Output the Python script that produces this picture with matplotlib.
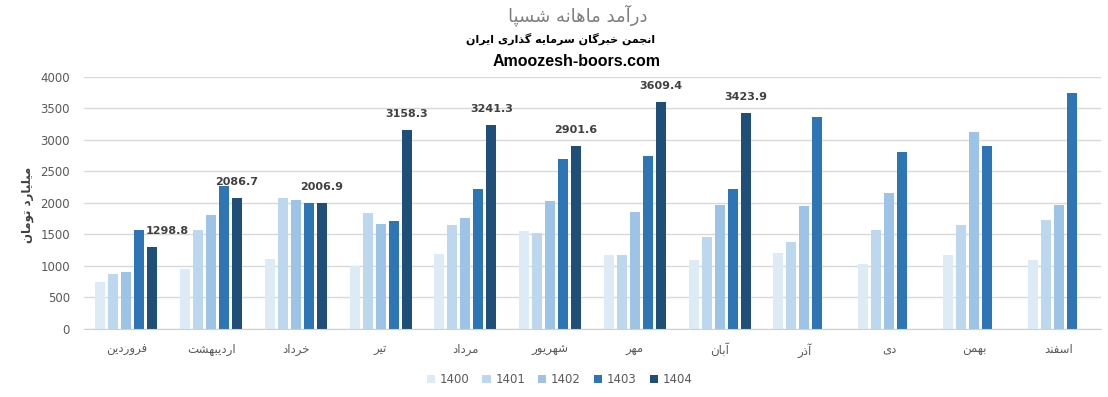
import numpy as np
import matplotlib
matplotlib.use('Agg')
import matplotlib.pyplot as plt

# Monthly revenue (billion toman) per Persian year
months = ['فروردین', 'اردیبهشت', 'خرداد', 'تیر', 'مرداد', 'شهریور',
          'مهر', 'آبان', 'آذر', 'دی', 'بهمن', 'اسفند']
years = ['1400', '1401', '1402', '1403', '1404']
v1400 = [741, 947, 1106, 1000, 1185, 1550, 1169, 1090, 1201, 1026, 1169, 1090]
v1401 = [868, 1566, 2072, 1847, 1645, 1529, 1169, 1455, 1376, 1566, 1645, 1725]
v1402 = [899, 1804, 2040, 1661, 1757, 2037, 1852, 1963, 1947, 2153, 3122, 1963]
v1403 = [1566, 2275, 2005, 1709, 2217, 2693, 2741, 2217, 3360, 2804, 2900, 3741]
v1404 = [1298.8, 2086.7, 2006.9, 3158.3, 3241.3, 2901.6, 3609.4, 3423.9]
colors = ['#DDEBF7', '#BDD7EE', '#9DC3E6', '#2E75B6', '#1F4E79']

title1 = 'درآمد ماهانه شسپا'
title2 = 'انجمن خبرگان سرمایه گذاری ایران'
title3 = 'Amoozesh-boors.com'
ylabel = 'میلیارد تومان'

# matplotlib has no Arabic shaping, so map letters to presentation forms
# (isolated, final, initial, medial); two-entry letters join only to the right
FORMS = {
    'ا': (0xFE8D, 0xFE8E), 'آ': (0xFE81, 0xFE82),
    'د': (0xFEA9, 0xFEAA), 'ذ': (0xFEAB, 0xFEAC),
    'ر': (0xFEAD, 0xFEAE), 'ز': (0xFEAF, 0xFEB0),
    'ژ': (0xFB8A, 0xFB8B), 'و': (0xFEED, 0xFEEE),
    'ب': (0xFE8F, 0xFE90, 0xFE91, 0xFE92), 'پ': (0xFB56, 0xFB57, 0xFB58, 0xFB59),
    'ت': (0xFE95, 0xFE96, 0xFE97, 0xFE98), 'ج': (0xFE9D, 0xFE9E, 0xFE9F, 0xFEA0),
    'خ': (0xFEA5, 0xFEA6, 0xFEA7, 0xFEA8), 'س': (0xFEB1, 0xFEB2, 0xFEB3, 0xFEB4),
    'ش': (0xFEB5, 0xFEB6, 0xFEB7, 0xFEB8), 'ف': (0xFED1, 0xFED2, 0xFED3, 0xFED4),
    'ک': (0xFB8E, 0xFB8F, 0xFB90, 0xFB91), 'گ': (0xFB92, 0xFB93, 0xFB94, 0xFB95),
    'ل': (0xFEDD, 0xFEDE, 0xFEDF, 0xFEE0), 'م': (0xFEE1, 0xFEE2, 0xFEE3, 0xFEE4),
    'ن': (0xFEE5, 0xFEE6, 0xFEE7, 0xFEE8), 'ه': (0xFEE9, 0xFEEA, 0xFEEB, 0xFEEC),
    'ی': (0xFBFC, 0xFBFD, 0xFBFE, 0xFBFF),
}


def shape(text):
    out = []
    for i, c in enumerate(text):
        if c not in FORMS:
            out.append(c)
            continue
        f = FORMS[c]
        prev = text[i - 1] if i > 0 else ''
        nxt = text[i + 1] if i + 1 < len(text) else ''
        join_prev = prev in FORMS and len(FORMS[prev]) == 4
        join_next = len(f) == 4 and nxt in FORMS
        if join_prev and join_next:
            out.append(chr(f[3]))
        elif join_prev:
            out.append(chr(f[1]))
        elif join_next:
            out.append(chr(f[2]))
        else:
            out.append(chr(f[0]))
    return ''.join(out)[::-1]


fa_font = ['DejaVu Sans']
gray = '#595959'

fig = plt.figure(figsize=(11.08, 3.97), dpi=100)
ax = fig.add_axes([0.0758, 0.1713, 0.9179, 0.6348])

x = np.arange(len(months))
step = 0.153
width = 0.118
series = [v1400, v1401, v1402, v1403, v1404]
for k, (vals, yr, col) in enumerate(zip(series, years, colors)):
    xs = x[:len(vals)] + (k - 2) * step
    ax.bar(xs, vals, width=width, color=col, label=yr, zorder=3)

# labels for the 1404 series
for i, v in enumerate(v1404):
    dx = 15 if i == 0 else 0
    ax.annotate(f'{v:.1f}', (x[i] + 2 * step, v), xytext=(dx, 16),
                textcoords='offset pixels', ha='center', va='center',
                fontsize=8, fontweight='bold', color='#404040')

ax.set_xlim(-0.5, 11.5)
ax.set_ylim(0, 4000)
ax.set_yticks(np.arange(0, 4001, 500))
ax.yaxis.grid(True, color='#d9d9d9', linewidth=1, zorder=0)
ax.tick_params(axis='both', length=0, colors=gray, labelsize=8.5)
ax.tick_params(axis='x', pad=10)
ax.tick_params(axis='y', pad=10)
ax.set_xticks(x)
ax.set_xticklabels([shape(m) for m in months], family=fa_font, fontsize=8.5, color=gray)
for s in ['top', 'right', 'left']:
    ax.spines[s].set_visible(False)
ax.spines['bottom'].set_color('#d0d0d0')
ax.spines['bottom'].set_zorder(4)

fig.text(0.025, 0.484, shape(ylabel), rotation=90, ha='center', va='center',
         family=fa_font, fontsize=8.5, fontweight='bold', color='#404040')

fig.text(0.521, 0.962, shape(title1), ha='center', va='center',
         family=fa_font, fontsize=13, color='#7f7f7f')
fig.text(0.506, 0.902, shape(title2), ha='center', va='center',
         family=fa_font, fontsize=8, fontweight='bold', color='black')
fig.text(0.52, 0.845, title3, ha='center', va='center',
         family=['Liberation Sans'], fontsize=11.5, fontweight='bold', color='black')

fig.legend(loc='center', bbox_to_anchor=(0.505, 0.043), ncol=5, frameon=False,
           fontsize=8.5, labelcolor=gray, handlelength=0.7, handleheight=0.7,
           handletextpad=0.4, columnspacing=1.1)

plt.savefig('out.png', dpi=100)
